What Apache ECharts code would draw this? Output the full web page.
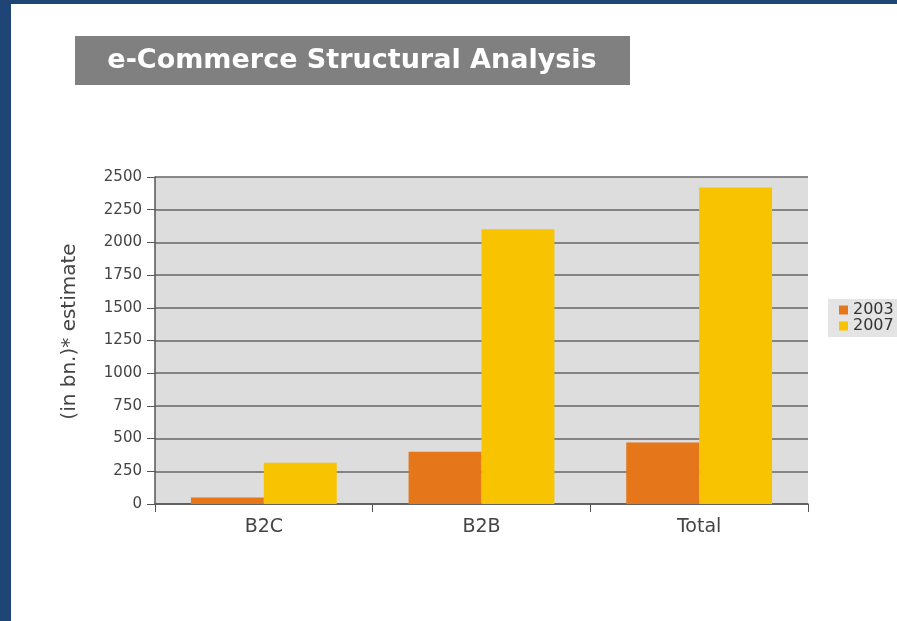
<!DOCTYPE html>
<html>
<head>
<meta charset="utf-8">
<script src="https://cdn.jsdelivr.net/npm/echarts@6/dist/echarts.min.js"></script>
<style>
html,body{margin:0;padding:0;background:#ffffff;}
#chart{width:897px;height:621px;}
</style>
</head>
<body>
<div id="chart"></div>
<script>
var titleText = 'e-Commerce Structural Analysis';
var categories = ['B2C', 'B2B', 'Total'];
var seriesNames = ['2003', '2007'];
var values2003 = [50, 400, 470];
var values2007 = [315, 2100, 2420];
var yAxisName = '(in bn.)* estimate';
var yMin = 0, yMax = 2500, yInterval = 250;

var chart = echarts.init(document.getElementById('chart'), null, {renderer: 'canvas'});
var font = 'DejaVu Sans, Verdana, sans-serif';
var option = {
  backgroundColor: '#ffffff',
  animation: false,
  color: ['#E5761A', '#F8C300'],
  graphic: [
    {type: 'rect', shape: {x: 0, y: 0, width: 11, height: 621}, style: {fill: '#1F4577'}, z: 10},
    {type: 'rect', shape: {x: 0, y: 0, width: 897, height: 4}, style: {fill: '#1F4577'}, z: 10},
    {type: 'rect', shape: {x: 75, y: 36, width: 555, height: 49}, style: {fill: '#808080'}, z: 10},
    {type: 'text', z: 11,
      style: {x: 352, y: 61, text: titleText, fill: '#ffffff', font: 'bold 27px ' + font, align: 'center', verticalAlign: 'middle'}}
  ],
  legend: {
    orient: 'vertical',
    left: 828,
    top: 299,
    data: seriesNames,
    backgroundColor: '#E4E4E4',
    padding: [3, 4, 3, 11],
    itemWidth: 9,
    itemHeight: 9,
    itemGap: 0,
    icon: 'rect',
    textStyle: {fontFamily: font, fontSize: 16, color: '#333333', lineHeight: 15}
  },
  grid: {left: 155, right: 89, top: 177, bottom: 117, show: true, backgroundColor: '#DDDDDD', borderWidth: 0},
  xAxis: {
    type: 'category',
    data: categories,
    axisLine: {show: true, lineStyle: {color: '#555555', width: 1.5}},
    axisTick: {show: true, length: 8, lineStyle: {color: '#555555'}},
    axisLabel: {fontFamily: font, fontSize: 19, color: '#444444', margin: 14}
  },
  yAxis: {
    type: 'value',
    min: yMin,
    max: yMax,
    interval: yInterval,
    name: yAxisName,
    nameLocation: 'middle',
    nameGap: 75,
    nameTextStyle: {fontFamily: font, fontSize: 20, color: '#444444', padding: [0, 0, 0, 18]},
    axisLine: {show: true, lineStyle: {color: '#555555', width: 1.5}},
    axisTick: {show: true, length: 8, lineStyle: {color: '#555555'}},
    axisLabel: {fontFamily: font, fontSize: 15, color: '#444444', margin: 13,
      formatter: function (v) { return String(v); }},
    splitLine: {show: true, lineStyle: {color: '#666666', width: 1.5}}
  },
  series: [
    {name: seriesNames[0], type: 'bar', data: values2003, barGap: '0%', barCategoryGap: '33%'},
    {name: seriesNames[1], type: 'bar', data: values2007, barGap: '0%', barCategoryGap: '33%'}
  ]
};
chart.setOption(option);
</script>
</body>
</html>
